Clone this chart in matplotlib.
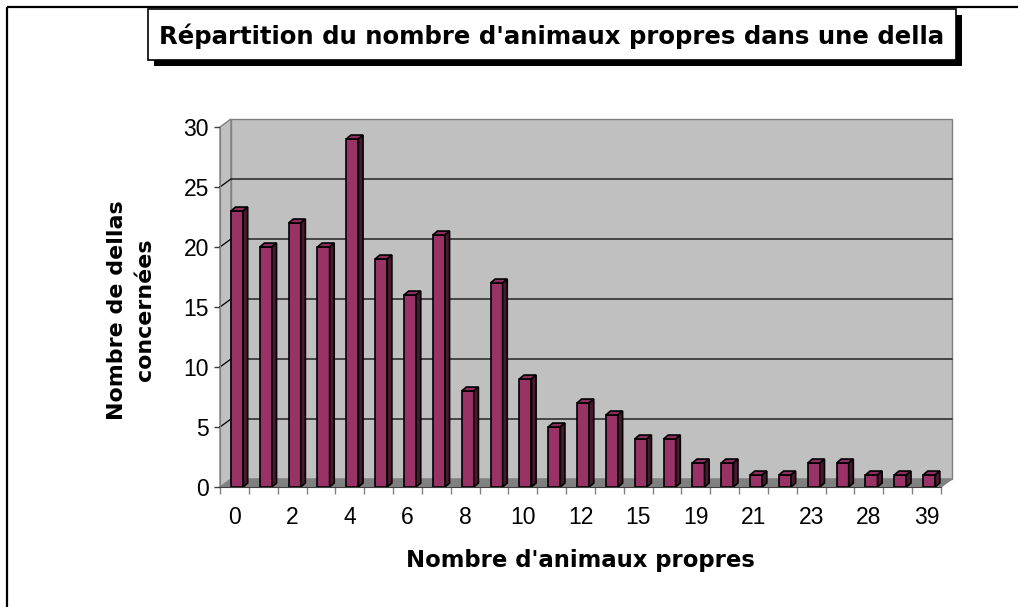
import numpy as np
import matplotlib
matplotlib.use("Agg")
import matplotlib.pyplot as plt
from matplotlib.patches import Polygon, Rectangle

# data
categories = ["0", "1", "2", "3", "4", "5", "6", "7", "8", "9", "10", "11", "12",
              "13", "15", "16", "19", "20", "21", "22", "23", "25", "28", "30", "39"]
counts = [23, 20, 22, 20, 29, 19, 16, 21, 8, 17, 9, 5, 7,
          6, 4, 4, 2, 2, 1, 1, 2, 2, 1, 1, 1]
y_ticks = [0, 5, 10, 15, 20, 25, 30]

title = "Répartition du nombre d'animaux propres dans une della"
xlabel = "Nombre d'animaux propres"
ylabel = "Nombre de dellas\nconcernées"

W, H = 1018, 607
FONT = "Liberation Sans"
BOLD_FONT = "DejaVu Sans"   # wider, closer to the spaced-out excel text
BAR_FRONT = "#993366"
BAR_TOP = "#8c2f5e"
BAR_SIDE = "#4a1830"
WALL = "#C0C0C0"
FLOOR = "#808080"

fig = plt.figure(figsize=(W / 100, H / 100), dpi=100)
fig.patch.set_facecolor("white")

# overlay in pixel coords for the border and the title box
over = fig.add_axes([0, 0, 1, 1], zorder=0)
over.set_xlim(0, W)
over.set_ylim(H, 0)
over.axis("off")
over.plot([7, 7], [H, 7], color="black", lw=1.6, solid_capstyle="butt")
over.plot([7, W], [7, 7], color="black", lw=1.6, solid_capstyle="butt")
over.add_patch(Rectangle((154, 15), 808, 51, fc="black", ec="none"))
over.add_patch(Rectangle((148, 9), 808, 51, fc="white", ec="black", lw=1.2))
over.text(552, 44, title, ha="center", va="baseline", fontsize=17.6,
          fontweight="bold", family=BOLD_FONT)

# main axes: front plane of the 3d-ish column chart
ax = fig.add_axes([220 / W, (H - 487) / H, (941 - 220) / W, 360 / H], zorder=1)
ax.patch.set_alpha(0)
n = len(counts)
ax.set_xlim(0, n)
ax.set_ylim(0, 30)

dx, dy = 0.38, 0.667   # depth of the walls in data units
# floor, left wall, back wall
ax.add_patch(Polygon([(0, 0), (n, 0), (n + dx, dy), (dx, dy)], closed=True,
                     fc=FLOOR, ec=FLOOR, lw=1, clip_on=False, zorder=0.5))
ax.add_patch(Polygon([(0, 0), (dx, dy), (dx, 30 + dy), (0, 30)], closed=True,
                     fc=WALL, ec=FLOOR, lw=1, clip_on=False, zorder=0.5))
ax.add_patch(Polygon([(dx, dy), (n + dx, dy), (n + dx, 30 + dy), (dx, 30 + dy)],
                     closed=True, fc=WALL, ec=FLOOR, lw=1, clip_on=False, zorder=0.4))
for v in y_ticks[1:-1]:
    ax.plot([0, dx, n + dx], [v, v + dy, v + dy], color="black", lw=0.9,
            clip_on=False, zorder=0.6)

# bars: front face through ax.bar, then top and side faces
bw = 0.42
xpos = np.arange(n) + 0.38 + bw / 2
bars = ax.bar(xpos, counts, width=bw, color=BAR_FRONT, edgecolor="black",
              lw=1.2, zorder=2)
bdx, bdy = 0.16, 0.33
for rect in bars:
    x0 = rect.get_x()
    x1 = x0 + rect.get_width()
    h = rect.get_height()
    ax.add_patch(Polygon([(x0, h), (x1, h), (x1 + bdx, h + bdy), (x0 + bdx, h + bdy)],
                         closed=True, fc=BAR_TOP, ec="black", lw=1.2,
                         clip_on=False, zorder=2))
    ax.add_patch(Polygon([(x1, 0), (x1, h), (x1 + bdx, h + bdy), (x1 + bdx, bdy)],
                         closed=True, fc=BAR_SIDE, ec="black", lw=1.2,
                         clip_on=False, zorder=2))

for side in ["top", "right"]:
    ax.spines[side].set_visible(False)
ax.spines["left"].set_color("#808080")
ax.spines["bottom"].set_color("#404040")
ax.spines["left"].set_zorder(3)
ax.spines["bottom"].set_zorder(3)

ax.set_yticks(y_ticks)
ax.set_yticklabels([str(t) for t in y_ticks], family=FONT, fontsize=16.5)
ax.tick_params(axis="y", length=4, width=1, color="#404040", pad=4)

ax.set_xticks(np.arange(n + 1))
ax.set_xticklabels([])
ax.set_xticks(np.arange(0, n, 2) + 0.5, minor=True)
ax.set_xticklabels(categories[::2], minor=True, family=FONT, fontsize=16.5)
ax.tick_params(axis="x", which="major", length=5, width=1, color="#808080")
ax.tick_params(axis="x", which="minor", length=0, pad=14)

over.text(580, 567, xlabel, ha="center", va="baseline", fontsize=16.4,
          fontweight="bold", family=BOLD_FONT)
over.text(131, 310, ylabel, ha="center", va="center", rotation=90,
          fontsize=15.9, fontweight="bold", family=BOLD_FONT, linespacing=1.5)

fig.savefig("out.png", dpi=100, facecolor="white")
